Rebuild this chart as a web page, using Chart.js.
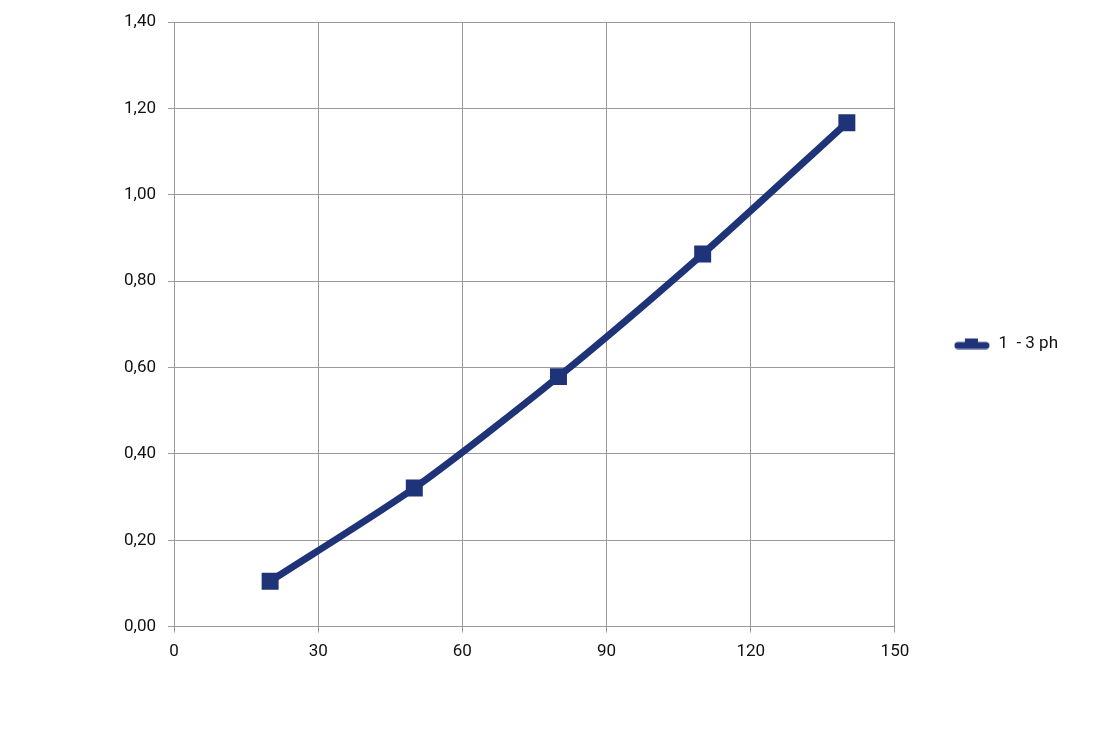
<!DOCTYPE html>
<html>
<head>
<meta charset="utf-8">
<script src="https://cdn.jsdelivr.net/npm/chart.js@4"></script>
<style>
  html, body { margin: 0; padding: 0; background: #ffffff; }
  #wrap { width: 1110px; height: 735px; }
</style>
</head>
<body>
<div id="wrap"><canvas id="chart" width="1110" height="735"></canvas></div>
<script>
const xValues = [20, 50, 80, 110, 140];
const yValues = [0.105, 0.321, 0.579, 0.863, 1.167];
const seriesName = "1  - 3 ph";
const lineColor = "#1f3378";
const gridColor = "#9a9a9a";
const textColor = "#111111";

// legend marker: thick rounded line with a small square bump on top
function makeLegendMarker() {
  const c = document.createElement("canvas");
  c.width = 36;
  c.height = 12;
  const g = c.getContext("2d");
  g.strokeStyle = lineColor;
  g.fillStyle = lineColor;
  g.lineWidth = 7;
  g.lineCap = "round";
  g.beginPath();
  g.moveTo(4, 8);
  g.lineTo(32, 8);
  g.stroke();
  g.fillRect(11, 1, 13, 5);
  return c;
}

const ctx = document.getElementById("chart");

new Chart(ctx, {
  type: "line",
  data: {
    datasets: [
      {
        label: seriesName,
        data: xValues.map((x, i) => ({ x, y: yValues[i] })),
        borderColor: lineColor,
        backgroundColor: lineColor,
        borderWidth: 7,
        tension: 0.25,
        pointStyle: "rect",
        pointRadius: 12,
        pointHoverRadius: 12,
        pointBorderWidth: 0,
      },
    ],
  },
  options: {
    responsive: false,
    animation: false,
    layout: {
      padding: { left: 0, right: 42, top: 16, bottom: 64 },
    },
    plugins: {
      tooltip: { enabled: false },
      legend: {
        position: "right",
        labels: {
          color: textColor,
          font: { family: "Roboto", size: 17 },
          usePointStyle: true,
          pointStyle: makeLegendMarker(),
          pointStyleWidth: 36,
          boxHeight: 12,
          padding: 0,
        },
      },
    },
    scales: {
      x: {
        type: "linear",
        min: 0,
        max: 150,
        ticks: {
          stepSize: 30,
          color: textColor,
          font: { family: "Roboto", size: 17 },
          padding: 9,
        },
        grid: { color: gridColor, tickLength: 6, lineWidth: 1 },
        border: { color: gridColor },
      },
      y: {
        min: 0,
        max: 1.4,
        afterFit: (scale) => { scale.width = 174; },
        ticks: {
          stepSize: 0.2,
          color: textColor,
          font: { family: "Roboto", size: 17 },
          padding: 12,
          callback: (v) => Number(v).toFixed(2).replace(".", ","),
        },
        grid: { color: gridColor, tickLength: 6, lineWidth: 1 },
        border: { color: gridColor },
      },
      gap: {
        type: "linear",
        position: "right",
        afterFit: (scale) => { scale.width = 59; },
        ticks: { display: false },
        grid: { display: false },
        border: { display: false },
      },
    },
  },
});
</script>
</body>
</html>
